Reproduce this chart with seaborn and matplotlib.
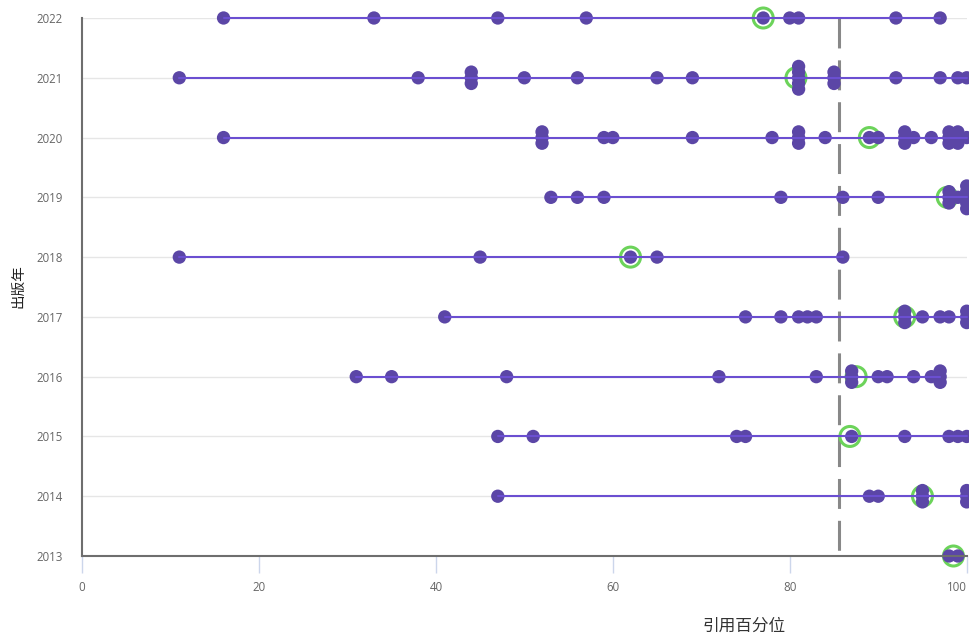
import matplotlib
matplotlib.use('Agg')
import matplotlib.pyplot as plt
import seaborn as sns
import pandas as pd

# citation percentiles per publication year (repeats = stacked dots)
years = [2022, 2021, 2020, 2019, 2018, 2017, 2016, 2015, 2014, 2013]
p2022 = [16, 33, 47, 57, 77, 80, 81, 92, 97]
p2021 = [11, 38, 44, 44, 44, 50, 56, 65, 69, 81, 81, 81, 81, 81, 85, 85, 85, 92, 97, 99, 100]
p2020 = [16, 52, 52, 52, 59, 60, 69, 78, 81, 81, 81, 84, 89, 90, 93, 93, 93, 94, 96,
         98, 98, 98, 99, 99, 99, 100]
p2019 = [53, 56, 59, 79, 86, 90, 98, 98, 98, 99, 100, 100, 100, 100, 100]
p2018 = [11, 45, 62, 65, 86]
p2017 = [41, 75, 79, 81, 82, 83, 93, 93, 93, 95, 97, 98, 100, 100, 100]
p2016 = [31, 35, 48, 72, 83, 87, 87, 87, 90, 91, 94, 96, 97, 97, 97]
p2015 = [47, 51, 74, 75, 87, 93, 98, 99, 100]
p2014 = [47, 89, 90, 95, 95, 95, 100, 100, 100]
p2013 = [98, 99]
medians = [77, 80.7, 89, 97.8, 62, 93, 87.5, 86.8, 95, 98.5]
ref_line = 85.6

series = [p2022, p2021, p2020, p2019, p2018, p2017, p2016, p2015, p2014, p2013]

rows = []
for yr, vals in zip(years, series):
    for v in sorted(set(vals)):
        n = vals.count(v)
        for i in range(n):
            rows.append({'year': yr, 'pct': v, 'ypos': yr + (i - (n - 1) / 2) * 0.095})
df = pd.DataFrame(rows)
med_df = pd.DataFrame({'year': years, 'median': medians})

sns.set_style('white')
plt.rcParams['font.family'] = ['Open Sans', 'Noto Sans CJK SC', 'DejaVu Sans']

fig = plt.figure(figsize=(9.7, 6.36), dpi=100)
ax = fig.add_axes([82 / 970, 80 / 636, 884.7 / 970, 538 / 636])

# horizontal grid
for yr in years:
    ax.plot([0, 100], [yr, yr], color='#e6e6e6', lw=1, zorder=0)

# reference dashed line
ax.plot([ref_line, ref_line], [2022, 2013], color='#888888', lw=2.2,
        dashes=(9.8, 3.9), zorder=1)

# median rings
sns.scatterplot(data=med_df, x='median', y='year', ax=ax, s=207, facecolor='none',
                edgecolor='#6cd35a', linewidth=2.2, zorder=2, clip_on=False, legend=False)

# dots
sns.scatterplot(data=df, x='pct', y='ypos', ax=ax, s=92, color='#5b46a6',
                edgecolor='none', zorder=3, clip_on=False, legend=False)

# range line per year
for yr, vals in zip(years, series):
    ax.plot([min(vals), max(vals)], [yr, yr], color='#6b4fd1', lw=1.5, zorder=4,
            clip_on=False)

ax.set_xlim(0, 100)
ax.set_ylim(2013, 2022)
ax.set_xticks([0, 20, 40, 60, 80, 100])
ax.set_yticks(years)
ax.set_yticklabels([str(y) for y in years])
ax.tick_params(axis='x', length=12, width=1, color='#ccd6eb', pad=6,
               labelsize=8.3, labelcolor='#666666', direction='out', bottom=True)
ax.tick_params(axis='y', length=0, pad=14, labelsize=8.3, labelcolor='#666666')
# last x label kept inside the picture
ax.get_xticklabels()[-1].set_horizontalalignment('right')
sns.despine(ax=ax)
for side in ['left', 'bottom']:
    ax.spines[side].set_color('#6e6e6e')
    ax.spines[side].set_linewidth(1.5)
    ax.spines[side].set_zorder(5)
ax.set_xlabel('')
ax.set_ylabel('')

fig.text(744 / 970, 1 - 626 / 636, '引用百分位', ha='center', va='center',
         fontsize=12, color='#333333', family=['Noto Sans CJK SC', 'DejaVu Sans'])
fig.text(18 / 970, 1 - 286 / 636, '出版年', ha='center', va='center', rotation=90,
         fontsize=10.5, color='#222222', family=['Noto Sans CJK SC', 'DejaVu Sans'])

fig.savefig('out.png', dpi=100)
